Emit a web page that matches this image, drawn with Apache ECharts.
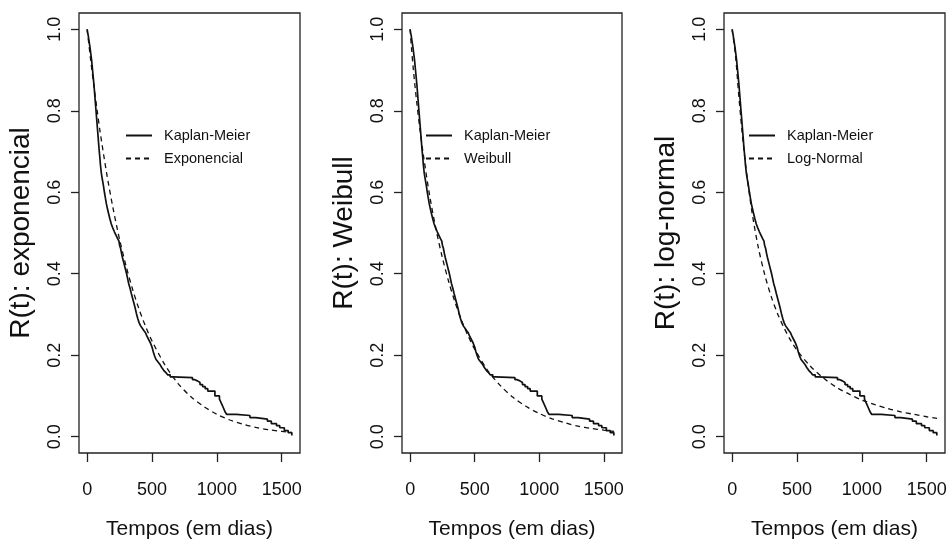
<!DOCTYPE html>
<html>
<head>
<meta charset="utf-8">
<script src="https://cdn.jsdelivr.net/npm/echarts@6/dist/echarts.min.js"></script>
<style>
html,body{margin:0;padding:0;background:#fff;}
#c{width:947px;height:542px;}
</style>
</head>
<body>
<div id="c"></div>
<script>
// ---------------- data ----------------
const xTicks = [0, 500, 1000, 1500];
const yTicks = [0, 0.2, 0.4, 0.6, 0.8, 1.0];
const xTitle = 'Tempos (em dias)';
const yTitles = ['R(t): exponencial', 'R(t): Weibull', 'R(t): log-normal'];
const kmName = 'Kaplan-Meier';
const fitNames = ['Exponencial', 'Weibull', 'Log-Normal'];

// Kaplan-Meier estimate (step function)
const kmTimes = [0, 3, 8, 15, 22, 28, 34, 40, 46, 52, 57, 62, 67, 72, 77, 82, 87, 92, 97, 103, 110,
  118, 126, 133, 140, 148, 156, 165, 175, 186, 198, 210, 222, 234, 245, 250, 258, 265, 272, 280, 288,
  296, 304, 312, 320, 330, 340, 350, 360, 370, 380, 390, 400, 412, 425, 438, 450, 462, 475, 488, 500,
  510, 520, 530, 545, 560, 575, 590, 605, 620, 640, 660, 812, 830, 850, 870, 890, 910, 930, 985, 1020,
  1035, 1050, 1062, 1075, 1150, 1255, 1300, 1390, 1420, 1460, 1485, 1520, 1550, 1578];
const kmSurv = [1.0, 0.993, 0.985, 0.970, 0.955, 0.940, 0.925, 0.905, 0.885, 0.865, 0.845, 0.825, 0.805, 0.785, 0.765, 0.745, 0.725, 0.705, 0.688, 0.665, 0.645,
  0.630, 0.615, 0.600, 0.587, 0.572, 0.560, 0.548, 0.535, 0.522, 0.512, 0.503, 0.495, 0.487, 0.480, 0.470, 0.462, 0.450, 0.440, 0.430, 0.420,
  0.410, 0.400, 0.388, 0.376, 0.365, 0.352, 0.340, 0.328, 0.316, 0.302, 0.290, 0.280, 0.272, 0.266, 0.260, 0.255, 0.246, 0.238, 0.230, 0.220,
  0.208, 0.198, 0.190, 0.184, 0.178, 0.170, 0.163, 0.158, 0.152, 0.147, 0.145, 0.140, 0.137, 0.133, 0.128, 0.123, 0.118, 0.112, 0.100, 0.092,
  0.082, 0.071, 0.062, 0.055, 0.052, 0.047, 0.043, 0.038, 0.032, 0.027, 0.022, 0.015, 0.010, 0.003];

// Fitted exponential
const expTimes = [0, 25, 50, 75, 100, 150, 200, 250, 300, 350, 400, 450, 500, 600, 700, 800, 900, 1000, 1100, 1200, 1300, 1400, 1500, 1580];
const expSurv  = [1, 0.930, 0.865, 0.805, 0.748, 0.647, 0.560, 0.484, 0.419, 0.362, 0.313, 0.271, 0.235, 0.176, 0.131, 0.098, 0.074, 0.055, 0.041, 0.031, 0.023, 0.017, 0.013, 0.010];

// Fitted Weibull
const weiTimes = [0, 10, 25, 50, 75, 100, 150, 200, 250, 300, 350, 400, 450, 500, 600, 700, 800, 900, 1000, 1100, 1200, 1300, 1400, 1500, 1580];
const weiSurv  = [1, 0.956, 0.901, 0.824, 0.757, 0.697, 0.594, 0.510, 0.439, 0.379, 0.328, 0.284, 0.247, 0.215, 0.163, 0.125, 0.096, 0.074, 0.057, 0.044, 0.034, 0.026, 0.0205, 0.016, 0.013];

// Fitted log-normal
const lnTimes = [0, 25, 50, 75, 100, 150, 200, 250, 300, 350, 400, 450, 500, 600, 700, 800, 900, 1000, 1100, 1200, 1300, 1400, 1500, 1580];
const lnSurv  = [1, 0.938, 0.841, 0.753, 0.677, 0.557, 0.467, 0.399, 0.345, 0.302, 0.267, 0.237, 0.212, 0.174, 0.145, 0.122, 0.105, 0.090, 0.079, 0.069, 0.061, 0.055, 0.049, 0.045];

// ---------------- helpers ----------------
const FONT = '"Liberation Sans", Arial, Helvetica, sans-serif';

function pairs(t, v) { return t.map((x, i) => [x, v[i]]); }

const panels = [
  { left: 79,  width: 221, fitT: expTimes, fitS: expSurv, legLeft: 125 },
  { left: 402, width: 220, fitT: weiTimes, fitS: weiSurv, legLeft: 425 },
  { left: 724, width: 221, fitT: lnTimes,  fitS: lnSurv,  legLeft: 748 }
];

const grid = [], xAxis = [], yAxis = [], series = [], legend = [];
panels.forEach((p, i) => {
  grid.push({ left: p.left, top: 13, width: p.width, height: 440, show: true,
    outerBoundsMode: 'none',
    borderColor: '#222', borderWidth: 1.3, backgroundColor: 'transparent', containLabel: false });
  xAxis.push({ type: 'value', gridIndex: i, min: -63, max: 1641, position: 'bottom',
    name: xTitle, nameLocation: 'middle', nameGap: 66,
    nameTextStyle: { fontFamily: FONT, fontSize: 21, color: '#111' },
    axisLine: { show: false, onZero: false },
    axisTick: { show: true, length: 9, lineStyle: { color: '#222', width: 1.3 }, customValues: xTicks },
    axisLabel: { show: true, customValues: xTicks, fontFamily: FONT, fontSize: 18, color: '#111', margin: 28,
      formatter: v => String(v) },
    splitLine: { show: false } });
  yAxis.push({ type: 'value', gridIndex: i, min: -0.04, max: 1.04, position: 'left',
    name: yTitles[i], nameLocation: 'middle', nameGap: 44, nameRotate: 90,
    nameTextStyle: { fontFamily: FONT, fontSize: 28, color: '#111' },
    axisLine: { show: false, onZero: false },
    axisTick: { show: true, length: 8, lineStyle: { color: '#222', width: 1.3 }, customValues: yTicks },
    axisLabel: { show: true, customValues: yTicks, rotate: 90, fontFamily: FONT, fontSize: 18, color: '#111', margin: 15,
      formatter: v => v.toFixed(1) },
    splitLine: { show: false } });
  series.push({ name: kmName, type: 'line', xAxisIndex: i, yAxisIndex: i, step: 'end',
    data: pairs(kmTimes, kmSurv), symbol: 'none', lineStyle: { color: '#111', width: 1.7, type: 'solid' },
    itemStyle: { color: '#111' } });
  series.push({ name: fitNames[i], type: 'line', xAxisIndex: i, yAxisIndex: i, smooth: 0.3,
    data: pairs(p.fitT, p.fitS), symbol: 'none', lineStyle: { color: '#111', width: 1.3, type: [5, 4] },
    itemStyle: { color: '#111' } });
  legend.push({ orient: 'vertical', left: p.legLeft, top: 128, padding: 0, itemWidth: 26, itemHeight: 14, itemGap: 8,
    data: [kmName, fitNames[i]], selectedMode: false,
    itemStyle: { opacity: 0 },
    textStyle: { fontFamily: FONT, fontSize: 14.5, color: '#111', padding: [0, 0, 0, 7] } });
});

const chart = echarts.init(document.getElementById('c'), null, { renderer: 'canvas' });
chart.setOption({ animation: false, backgroundColor: '#fff', grid, xAxis, yAxis, series, legend });
</script>
</body>
</html>
